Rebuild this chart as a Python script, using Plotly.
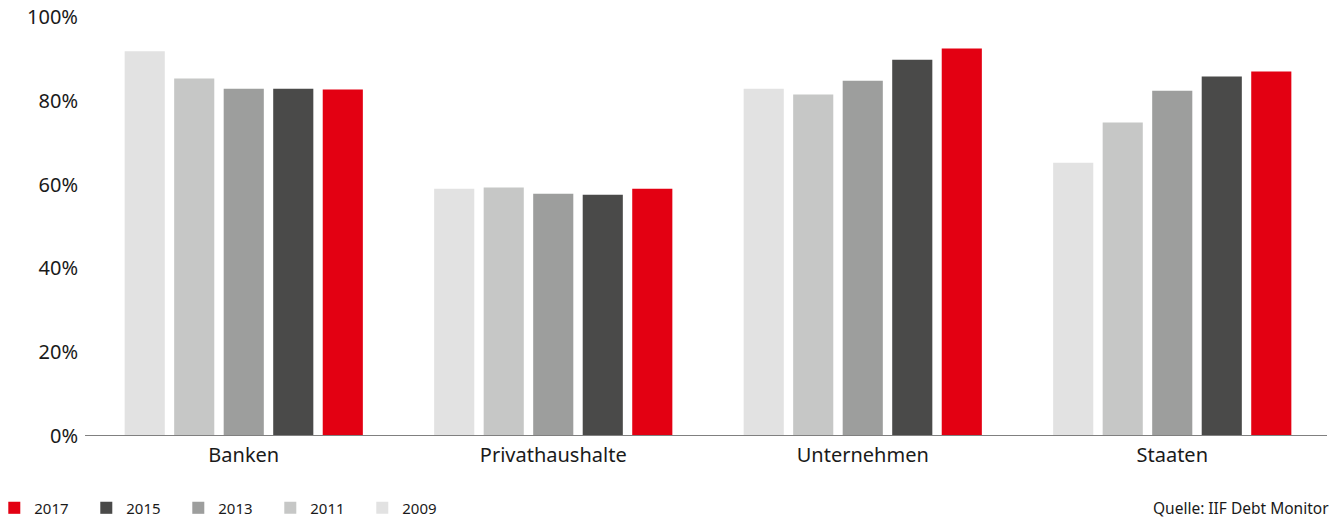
import plotly.graph_objects as go

categories = ["Banken", "Privathaushalte", "Unternehmen", "Staaten"]
years = ["2009", "2011", "2013", "2015", "2017"]
values = {
    "2009": [91.8, 59.0, 82.9, 65.2],
    "2011": [85.3, 59.3, 81.5, 74.8],
    "2013": [82.9, 57.8, 84.8, 82.4],
    "2015": [82.9, 57.6, 89.8, 85.8],
    "2017": [82.7, 59.0, 92.5, 87.0],
}
colors = {
    "2009": "#e2e2e2",
    "2011": "#c6c7c6",
    "2013": "#9d9e9d",
    "2015": "#4a4a49",
    "2017": "#e30012",
}
y_ticks = [0, 20, 40, 60, 80, 100]
y_tick_labels = ["0%", "20%", "40%", "60%", "80%", "100%"]

FONT = "Noto Sans"

fig = go.Figure()
for year in years:
    fig.add_trace(
        go.Bar(
            x=categories,
            y=values[year],
            name=year,
            marker=dict(color=colors[year], line_width=0),
        )
    )

# baseline, starts a little left of the plot area like in the original
fig.add_shape(
    type="line",
    xref="paper", yref="y",
    x0=-0.0032, x1=1, y0=0, y1=0,
    line=dict(color="#808080", width=2),
    layer="above",
)

fig.update_layout(
    width=1343,
    height=519,
    barmode="group",
    bargap=0.2,
    bargroupgap=0.19,
    plot_bgcolor="white",
    paper_bgcolor="white",
    margin=dict(l=89, r=16, t=17, b=83, autoexpand=False),
    font=dict(family=FONT, color="#1a1a1a"),
    showlegend=True,
    legend=dict(
        orientation="h",
        traceorder="reversed",
        x=-0.0765,
        xanchor="left",
        y=-0.172,
        yanchor="middle",
        entrywidth=47,
        entrywidthmode="pixels",
        font=dict(size=15, family=FONT, color="#1a1a1a"),
        itemclick=False,
    ),
    annotations=[
        dict(
            text="Quelle: IIF Debt Monitor",
            xref="paper",
            yref="paper",
            x=1.003,
            y=-0.172,
            xanchor="right",
            yanchor="middle",
            showarrow=False,
            font=dict(size=15.5, family=FONT, color="#1a1a1a"),
        )
    ],
)

fig.update_xaxes(
    showgrid=False,
    showline=False,
    ticks="",
    ticklabelstandoff=5,
    automargin=False,
    tickfont=dict(size=20, family=FONT, color="#1a1a1a"),
)
fig.update_yaxes(
    range=[0, 100],
    tickvals=y_ticks,
    ticktext=y_tick_labels,
    showgrid=False,
    zeroline=False,
    showline=False,
    ticks="",
    ticklabelstandoff=10,
    automargin=False,
    tickfont=dict(size=20, family=FONT, color="#1a1a1a"),
)

# the page body has a default 8px margin; drop it so the figure fills the window
fig.write_html(
    "out.html",
    config={"displayModeBar": False},
    post_script="document.body.style.margin = '0';",
)
